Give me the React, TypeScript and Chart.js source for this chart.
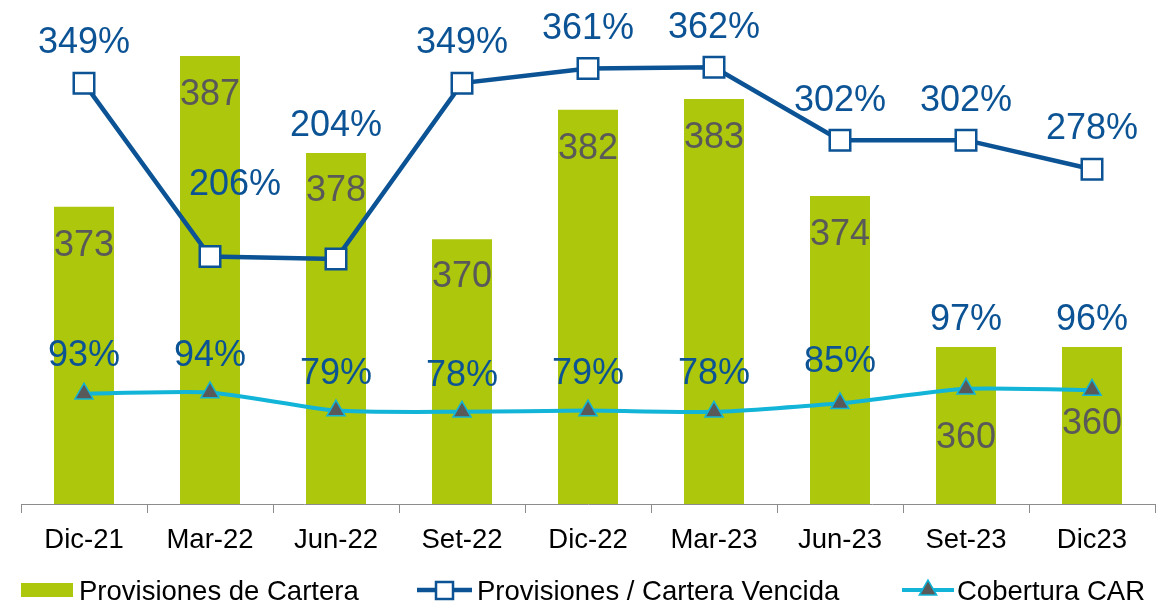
import React, { useEffect, useRef } from 'react';
import { Chart, registerables } from 'chart.js';

Chart.register(...registerables);

// ---- data ----
const categories = ['Dic-21', 'Mar-22', 'Jun-22', 'Set-22', 'Dic-22', 'Mar-23', 'Jun-23', 'Set-23', 'Dic23'];
const provisionesCartera = [373, 387, 378, 370, 382, 383, 374, 360, 360];
const provisionesCarteraVencida = [349, 206, 204, 349, 361, 362, 302, 302, 278];
const coberturaCAR = [93, 94, 79, 78, 79, 78, 85, 97, 96];
const seriesNames = ['Provisiones de Cartera', 'Provisiones / Cartera Vencida', 'Cobertura CAR'];

// ---- label placement (styling) ----
const barLabelDy = [36, 36, 35, 35, 36, 36, 36, 88, 74];
const pvLabelDx = [0, 25, 0, 0, 0, 0, 0, 0, 0];
const pvLabelDy = [-43, -74, -136, -43, -42, -42, -42, -42, -43];
const cobLabelDy = [-41, -39, -39, -39, -39, -41, -44, -72, -73];
const zeros = [0, 0, 0, 0, 0, 0, 0, 0, 0];

const FONT = '"Liberation Sans", Arial, Helvetica, sans-serif';
const BAR_COLOR = '#acc70c';
const BLUE = '#0b5394';
const CYAN = '#12b4d8';
const LABEL_GRAY = '#595959';
const AXIS_GRAY = '#8c8c8c';

const valueLabels = {
  id: 'valueLabels',
  afterDatasetsDraw(chart: any) {
    const ctx = chart.ctx;
    const size = 36;
    ctx.save();
    ctx.font = `${size}px ${FONT}`;
    ctx.textAlign = 'center';
    ctx.textBaseline = 'alphabetic';
    const cfgs = [
      { index: 0, color: LABEL_GRAY, suffix: '', dx: zeros, dy: barLabelDy },
      { index: 1, color: BLUE, suffix: '%', dx: pvLabelDx, dy: pvLabelDy },
      { index: 2, color: BLUE, suffix: '%', dx: zeros, dy: cobLabelDy },
    ];
    cfgs.forEach((c) => {
      const meta = chart.getDatasetMeta(c.index);
      const data = chart.data.datasets[c.index].data;
      meta.data.forEach((el: any, i: number) => {
        ctx.fillStyle = c.color;
        ctx.fillText(String(data[i]) + c.suffix, el.x + c.dx[i], el.y + c.dy[i] + size * 0.358);
      });
    });
    ctx.restore();
  },
};

const customLegend = {
  id: 'customLegend',
  afterDraw(chart: any) {
    const ctx = chart.ctx;
    const cy = 590;
    const size = 27.5;
    ctx.save();
    ctx.font = `${size}px ${FONT}`;
    ctx.fillStyle = '#000';
    ctx.textAlign = 'left';
    ctx.textBaseline = 'alphabetic';
    const base = cy + size * 0.358;
    // item 1: bar
    ctx.fillStyle = BAR_COLOR;
    ctx.fillRect(21, 583, 52, 14);
    ctx.fillStyle = '#000';
    ctx.fillText(seriesNames[0], 79, base);
    // item 2: blue line + square
    ctx.strokeStyle = BLUE;
    ctx.lineWidth = 4.5;
    ctx.beginPath();
    ctx.moveTo(417, cy);
    ctx.lineTo(472, cy);
    ctx.stroke();
    ctx.fillStyle = '#fff';
    ctx.lineWidth = 2.5;
    ctx.fillRect(436, cy - 8, 17, 17);
    ctx.strokeRect(436, cy - 8, 17, 17);
    ctx.fillStyle = '#000';
    ctx.fillText(seriesNames[1], 477, base);
    // item 3: cyan line + triangle
    ctx.strokeStyle = CYAN;
    ctx.lineWidth = 4;
    ctx.beginPath();
    ctx.moveTo(902, cy);
    ctx.lineTo(954, cy);
    ctx.stroke();
    const r = 10;
    ctx.beginPath();
    ctx.moveTo(928, cy - r);
    ctx.lineTo(928 + r * 0.866, cy + r * 0.5);
    ctx.lineTo(928 - r * 0.866, cy + r * 0.5);
    ctx.closePath();
    ctx.fillStyle = LABEL_GRAY;
    ctx.fill();
    ctx.lineWidth = 1.5;
    ctx.stroke();
    ctx.fillStyle = '#000';
    ctx.fillText(seriesNames[2], 957, base);
    ctx.restore();
  },
};

export default function App() {
  const ref = useRef<HTMLCanvasElement | null>(null);

  useEffect(() => {
    if (!ref.current) return;
    const chart = new Chart(ref.current, {
      type: 'bar',
      data: {
        labels: categories,
        datasets: [
          {
            type: 'bar',
            label: seriesNames[0],
            data: provisionesCartera,
            backgroundColor: BAR_COLOR,
            yAxisID: 'yBar',
            barPercentage: 0.476,
            categoryPercentage: 1,
            order: 3,
          },
          {
            type: 'line',
            label: seriesNames[1],
            data: provisionesCarteraVencida,
            borderColor: BLUE,
            borderWidth: 4.5,
            pointStyle: 'rect',
            pointRadius: 14.5,
            pointBackgroundColor: '#ffffff',
            pointBorderColor: BLUE,
            pointBorderWidth: 2.5,
            yAxisID: 'yPct',
            tension: 0,
            order: 1,
          },
          {
            type: 'line',
            label: seriesNames[2],
            data: coberturaCAR,
            borderColor: CYAN,
            borderWidth: 4,
            pointStyle: 'triangle',
            pointRadius: 10.5,
            pointBackgroundColor: LABEL_GRAY,
            pointBorderColor: CYAN,
            pointBorderWidth: 1.5,
            yAxisID: 'yPct',
            tension: 0.2,
            order: 2,
          },
        ],
      } as any,
      options: {
        animation: false,
        responsive: false,
        layout: { autoPadding: false, padding: { top: 10, bottom: 36, left: 21, right: 20 } },
        plugins: {
          legend: { display: false },
          tooltip: { enabled: false },
        },
        scales: {
          x: {
            offset: true,
            grid: {
              display: true,
              drawOnChartArea: false,
              drawTicks: true,
              tickLength: 9,
              color: AXIS_GRAY,
              offset: true,
            },
            border: { display: true, color: AXIS_GRAY, width: 1 },
            ticks: {
              color: '#000',
              font: { family: FONT, size: 27.5 },
              padding: 11,
              maxRotation: 0,
              autoSkip: false,
            },
          },
          yBar: { display: false, position: 'left', min: 345.43, max: 391.26 },
          yPct: { display: false, position: 'right', min: 2, max: 409.3 },
        },
      } as any,
      plugins: [valueLabels, customLegend],
    });
    return () => chart.destroy();
  }, []);

  return (
    <div style={{ position: 'absolute', left: 0, top: 0, width: 1175, height: 604, background: '#fff' }}>
      <canvas ref={ref} width={1175} height={604} style={{ display: 'block' }} />
    </div>
  );
}
